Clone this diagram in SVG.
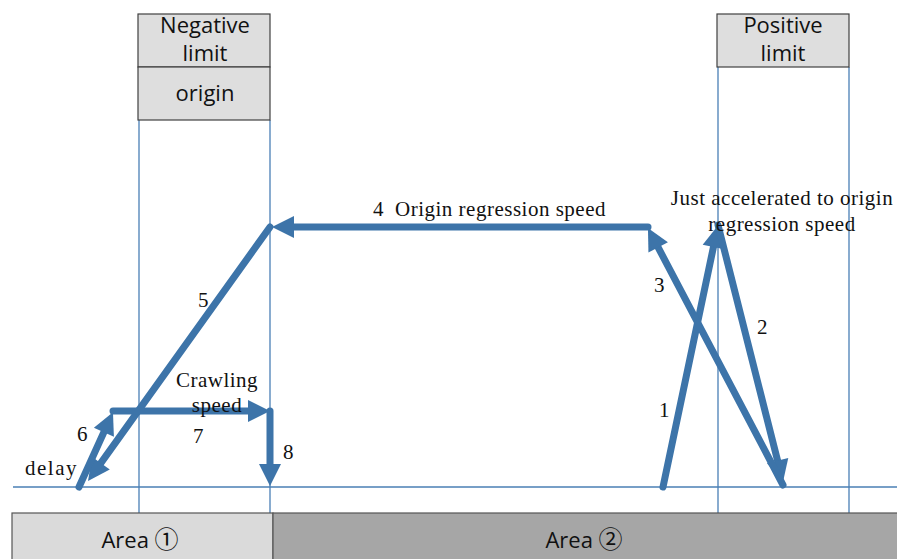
<svg xmlns="http://www.w3.org/2000/svg" width="897" height="559" viewBox="0 0 897 559">
<style>
.guide{stroke:#4a7fb5;stroke-width:1.3;fill:none}
.box{fill:#dedede;stroke:#404040;stroke-width:1.2}
.bt{font-family:"Open Sans","Liberation Sans","DejaVu Sans",sans-serif;font-size:22px;fill:#111;text-anchor:middle}
.cd{font-family:"Noto Sans CJK SC","Noto Sans CJK JP",sans-serif;font-size:24px}
.lbl{font-family:"Liberation Serif","DejaVu Serif",serif;fill:#111;font-size:21px}
.sm{letter-spacing:0.5px}
.arr{stroke:#3d74a9;stroke-width:7;fill:none;stroke-linecap:round;marker-end:url(#ah)}
</style>
<defs>
<marker id="ah" markerUnits="userSpaceOnUse" markerWidth="22" markerHeight="22" refX="9" refY="11" orient="auto" overflow="visible">
<path d="M0,0 L22,11 L0,22 z" fill="#3d74a9"/>
</marker>
</defs>
<rect width="897" height="559" fill="#fff"/>
<g id="guides">
<line class="guide" x1="13" y1="487" x2="897" y2="487"/>
<line class="guide" x1="139" y1="120" x2="139" y2="513"/>
<line class="guide" x1="270" y1="120" x2="270" y2="513"/>
<line class="guide" x1="718" y1="67" x2="718" y2="513"/>
<line class="guide" x1="849" y1="67" x2="849" y2="513"/>
</g>
<g id="neg-limit">
<rect class="box" x="138" y="14" width="132" height="53"/>
<text class="bt" x="205" y="33">Negative</text>
<text class="bt" x="205" y="61">limit</text>
</g>
<g id="origin">
<rect class="box" x="138" y="67" width="132" height="53"/>
<text class="bt" x="205" y="101">origin</text>
</g>
<g id="pos-limit">
<rect class="box" x="717" y="14" width="132" height="53"/>
<text class="bt" x="783" y="33">Positive</text>
<text class="bt" x="783" y="61">limit</text>
</g>
<g id="area1">
<rect x="12" y="513" width="261" height="50" fill="#dadada" stroke="#555" stroke-width="1.2"/>
<text class="bt" x="140" y="548">Area <tspan class="cd">①</tspan></text>
</g>
<g id="area2">
<rect x="273" y="513" width="630" height="50" fill="#a6a6a6" stroke="#555" stroke-width="1.2"/>
<text class="bt" x="584" y="548">Area <tspan class="cd">②</tspan></text>
</g>
<g id="connectors">
<path class="arr" d="M663,487 L715.3,238.2"/>
<path class="arr" d="M718,225 L779.8,469.4"/>
<path class="arr" d="M783,485 L654.0,239.5"/>
<path class="arr" d="M648,227 L285,227"/>
<path class="arr" d="M270,227 L95.6,470.4"/>
<path class="arr" d="M79,487 L107.6,424.0"/>
<path class="arr" d="M113,411 L257,411"/>
<path class="arr" d="M270,411 L270,473"/>
</g>
<g id="labels">
<text class="lbl" x="373" y="216">4</text>
<text class="lbl sm" x="395" y="216">Origin regression speed</text>
<text class="lbl sm" x="782" y="205" text-anchor="middle">Just accelerated to origin</text>
<text class="lbl sm" x="782" y="231" text-anchor="middle">regression speed</text>
<text class="lbl" x="654" y="292">3</text>
<text class="lbl" x="757" y="334">2</text>
<text class="lbl" x="659" y="417">1</text>
<text class="lbl" x="198" y="307">5</text>
<text class="lbl" x="77" y="441">6</text>
<text class="lbl" x="193" y="443">7</text>
<text class="lbl" x="283" y="459">8</text>
<text class="lbl" x="25" y="475" font-size="22" letter-spacing="1.5">delay</text>
<text class="lbl sm" x="217" y="387" text-anchor="middle">Crawling</text>
<text class="lbl sm" x="217" y="412" text-anchor="middle">speed</text>
</g>
</svg>
